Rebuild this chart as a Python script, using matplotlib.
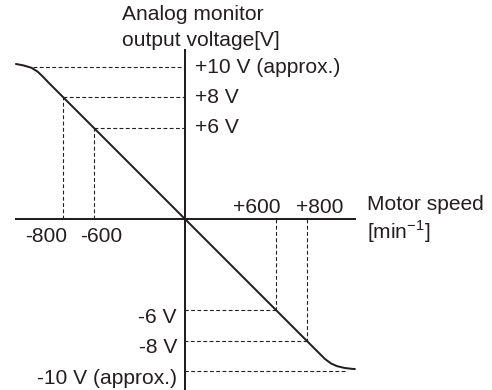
import matplotlib.pyplot as plt

plt.rcParams['font.family'] = ['Liberation Sans', 'DejaVu Sans']
plt.rcParams['mathtext.fontset'] = 'custom'
plt.rcParams['mathtext.rm'] = 'Liberation Sans'

ink = '#231f20'
fs = 21

# output curve: linear through the origin, rounding off near +/-10 V
speed = [-1112, -1060, -1010, -970, -935, -900, 900, 920, 960, 1000, 1050, 1100, 1118]
voltage = [10.2, 10.1, 9.95, 9.7, 9.37, 9.0, -9.0, -9.2, -9.5, -9.68, -9.8, -9.86, -9.87]

# voltage guide lines and where they meet the curve
volt_levels = [10, 8, 6, -6, -8, -10]
volt_labels = ['+10 V (approx.)', '+8 V', '+6 V', '-6 V', '-8 V', '-10 V (approx.)']
level_speed = [-1000, -800, -600, 600, 800, 1050]

# speed guide lines
speed_marks = [-800, -600, 600, 800]
speed_volts = [8, 6, -6, -8]
speed_labels = ['-800', '-600', '+600', '+800']
speed_dx = [-17, 7, -19, 13]

fig = plt.figure(figsize=(492 / 72, 390 / 72), dpi=72)
ax = fig.add_axes([0, 0, 1, 1])
ax.set_xlim(-1217, 2020)
ax.set_ylim(-11.25, 14.41)

for side in ['top', 'right']:
    ax.spines[side].set_visible(False)
ax.spines['left'].set_position(('data', 0))
ax.spines['bottom'].set_position(('data', 0))
ax.spines['left'].set_bounds(-11.2, 11.1)
ax.spines['bottom'].set_bounds(-1112, 1118)
for side in ['left', 'bottom']:
    ax.spines[side].set_linewidth(2)
    ax.spines[side].set_color(ink)
ax.set_xticks([])
ax.set_yticks([])

dash = (0, (3.5, 2.2))
for s, v, lab in zip(level_speed, volt_levels, volt_labels):
    ax.plot([s, 0], [v, v], color=ink, lw=1.1, linestyle=dash)
    if v > 0:
        ax.annotate(lab, xy=(0, v), xytext=(10, 0), textcoords='offset points',
                    ha='left', va='center', fontsize=fs, color=ink)
    else:
        ax.annotate(lab, xy=(0, v), xytext=(-8, -7), textcoords='offset points',
                    ha='right', va='center', fontsize=fs, color=ink)

for s, v, lab, dx in zip(speed_marks, speed_volts, speed_labels, speed_dx):
    ax.plot([s, s], [0, v], color=ink, lw=1.1, linestyle=dash)
    dy = -17 if s < 0 else 12
    ax.annotate(lab, xy=(s, 0), xytext=(dx, dy), textcoords='offset points',
                ha='center', va='center', fontsize=fs, color=ink)

ax.plot(speed, voltage, color=ink, lw=2, solid_capstyle='round')

fig.text(122 / 492, 1 - 15 / 390, 'Analog monitor', ha='left', va='center',
         fontsize=fs, color=ink)
fig.text(122 / 492, 1 - 40 / 390, 'output voltage[V]', ha='left', va='center',
         fontsize=fs, color=ink)
fig.text(367 / 492, 1 - 205 / 390, 'Motor speed', ha='left', va='center',
         fontsize=fs, color=ink)
fig.text(367 / 492, 1 - 232 / 390, r'[min$^{\mathregular{-1}}$]', ha='left',
         va='center', fontsize=fs, color=ink)

fig.savefig('out.png', dpi=72)
